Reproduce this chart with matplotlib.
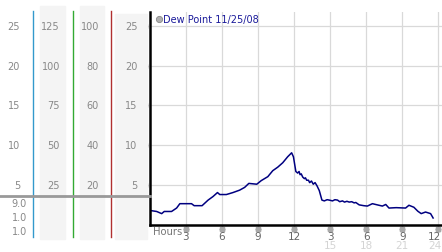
import numpy as np
import matplotlib
matplotlib.use('Agg')
import matplotlib.pyplot as plt
from matplotlib.transforms import blended_transform_factory

# dew point readings (hours since midnight, deg)
hours = [0.0, 0.57, 0.99, 1.2, 1.81, 2.23, 2.5, 3.47, 3.69, 4.35, 4.85, 5.26, 5.63, 5.82,
         6.37, 6.92, 7.47, 7.89, 8.24, 8.9, 9.27, 9.82, 10.23, 10.65, 11.06, 11.47, 11.8,
         11.95, 12.15, 12.3, 12.42, 12.5, 12.6, 12.72, 12.86, 12.95, 13.05, 13.2, 13.3,
         13.45, 13.6, 13.75, 13.91, 14.1, 14.32, 14.52, 14.75, 14.93, 15.2, 15.4, 15.62,
         15.8, 16.03, 16.2, 16.4, 16.59, 16.8, 17.0, 17.14, 17.42, 17.8, 18.1, 18.52,
         18.93, 19.35, 19.63, 19.9, 20.5, 21.28, 21.56, 21.97, 22.3, 22.58, 22.94, 23.36, 23.57]
dewpt = [1.8, 1.67, 1.4, 1.67, 1.67, 2.1, 2.65, 2.65, 2.4, 2.4, 3.1, 3.55, 4.05, 3.8,
         3.8, 4.05, 4.35, 4.7, 5.2, 5.1, 5.55, 6.05, 6.8, 7.25, 7.8, 8.55, 9.05,
         8.55, 6.7, 6.5, 6.7, 6.3, 6.4, 6.0, 5.8, 5.9, 5.6, 5.6, 5.3,
         5.5, 5.1, 5.3, 4.9, 4.3, 3.1, 3.0, 3.15, 3.1, 3.0, 3.15, 3.1,
         2.9, 3.0, 2.85, 2.95, 2.85, 2.9, 2.75, 2.8, 2.5, 2.4, 2.35, 2.65,
         2.5, 2.35, 2.55, 2.1, 2.15, 2.1, 2.45, 2.2, 1.7, 1.4, 1.6, 1.4, 0.85]

yticks = [5, 10, 15, 20, 25]
col1_labels = ['5', '10', '15', '20', '25']
col2_labels = ['25', '50', '75', '100', '125']
col3_labels = ['20', '40', '60', '80', '100']
col4_labels = ['5', '10', '15', '20', '25']
col1_extra = ['9.0', '1.0', '1.0']
xticks = [3, 6, 9, 12, 15, 18, 21, 24]
xlab_top = ['3', '6', '9', '12', '3', '6', '9', '12']
xlab_bot = ['', '', '', '', '15', '18', '21', '24']

W, H = 442, 253
fig = plt.figure(figsize=(W/100, H/100), dpi=100)

def fx(px):
    return px / W

def fy(py):
    return 1 - py / H

# shaded columns and coloured separators on the left
for x0, x1, y0 in [(40, 65, 7), (80, 104, 7), (115, 147, 15)]:
    fig.patches.append(plt.Rectangle((fx(x0), fy(240)), fx(x1 - x0), (240 - y0)/H,
                                     transform=fig.transFigure, color='#f4f4f4', zorder=0))
for xp, c in [(33, '#3399cc'), (72.5, '#33aa33'), (111, '#b03030')]:
    fig.add_artist(plt.Line2D([fx(xp), fx(xp)], [fy(12), fy(238)], transform=fig.transFigure,
                              color=c, lw=1.0))
fig.add_artist(plt.Line2D([0, fx(150)], [fy(197), fy(197)], transform=fig.transFigure,
                          color='#999999', lw=2.0))

ax = fig.add_axes([fx(149.8), fy(225.75), fx(442 - 149.8), (225.75 - 13)/H])
ax.plot(hours, dewpt, color='#000080', lw=1.1)
ax.set_xlim(0, 24.31)
ax.set_ylim(0, 26.76)
ax.set_xticks(xticks)
ax.set_yticks(yticks)
ax.grid(True, color='#d9d9d9', lw=0.9)
ax.tick_params(length=0, labelbottom=False, labelleft=False)
for s in ['top', 'right']:
    ax.spines[s].set_visible(False)
ax.spines['left'].set_linewidth(1.8)
ax.spines['bottom'].set_linewidth(1.8)

gray = '#888888'
mark = '#aaaaaa'
tr = blended_transform_factory(fig.transFigure, ax.transData)
for i, yv in enumerate(yticks):
    fig.text(fx(20), yv, col1_labels[i], transform=tr, ha='right', va='center', fontsize=7, color=gray)
    fig.text(fx(60), yv, col2_labels[i], transform=tr, ha='right', va='center', fontsize=7, color=gray)
    fig.text(fx(99), yv, col3_labels[i], transform=tr, ha='right', va='center', fontsize=7, color=gray)
    fig.text(fx(137.5), yv, col4_labels[i], transform=tr, ha='right', va='center', fontsize=7, color=gray)
# small reference-mark ticks
ytr = ax.get_yaxis_transform()
ax.plot([-0.015] * len(yticks), yticks, transform=ytr, ls='none', marker='$\u203b$', ms=4,
        color=mark, clip_on=False)
xtr = ax.get_xaxis_transform()
ax.plot(xticks, [-0.022] * len(xticks), transform=xtr, ls='none', marker='$\u203b$', ms=4,
        color=mark, clip_on=False)

for i, yp in enumerate([204, 218.5, 232]):
    fig.text(fx(27), fy(yp), col1_extra[i], ha='right', va='center', fontsize=7, color=gray)

for i, xv in enumerate(xticks):
    last = i == len(xticks) - 1
    ha = 'right' if last else 'center'
    xl = ax.get_xlim()[1] - 0.05 if last else xv
    ax.text(xl, -0.052, xlab_top[i], transform=xtr, ha=ha, va='center', fontsize=7.5,
            color='#666666', clip_on=False)
    if xlab_bot[i]:
        ax.text(xl, -0.097, xlab_bot[i], transform=xtr, ha=ha, va='center', fontsize=7.5,
                color='#d4d4d4', clip_on=False)
ax.text(0.27, -0.03, 'Hours', transform=xtr, ha='left', va='center', fontsize=7.2,
        color='#777777', clip_on=False)

# legend
fig.add_artist(plt.Line2D([fx(159)], [fy(20)], marker='o', ms=4.5, mfc='#b0b0b0',
                          mec='#888888', mew=0.6, ls='none', transform=fig.transFigure))
fig.text(fx(163), fy(20.5), 'Dew Point 11/25/08', ha='left', va='center', fontsize=7,
         color='#1a1a9a')

fig.savefig('out.png', dpi=100)
